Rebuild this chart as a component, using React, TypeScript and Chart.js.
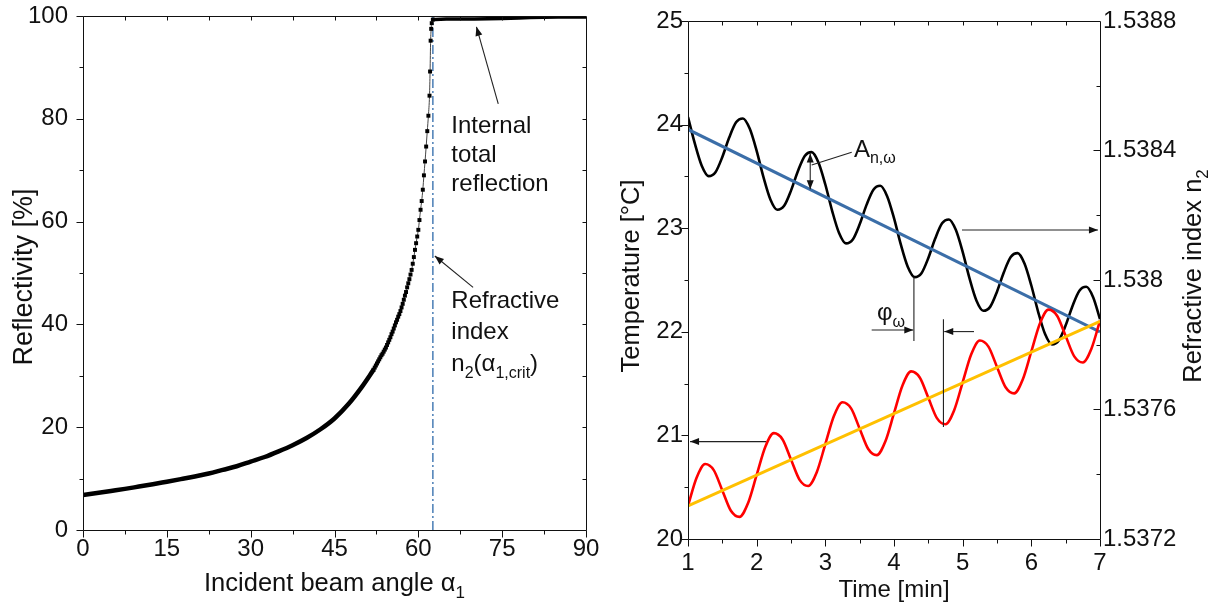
import React, { useEffect, useRef } from 'react';
import { Chart, registerables } from 'chart.js';

Chart.register(...registerables);

const FONT = '"Liberation Sans", Arial, Helvetica, sans-serif';

// ---------------- Left chart data ----------------
const ANGLE_LOW = [0, 2.5, 5, 7.5, 10, 12.5, 15, 17.5, 20, 22.5, 25, 27.5, 30, 32.5, 35, 37.5, 40, 42.5, 45, 47.5, 50, 52];
const REFL_LOW = [6.8, 7.2, 7.6, 8.0, 8.45, 8.9, 9.4, 9.9, 10.4, 11.0, 11.7, 12.4, 13.3, 14.2, 15.3, 16.5, 17.9, 19.6, 21.7, 24.5, 28.0, 31.2];

const ANGLE_STEEP = [52.0, 52.2, 52.4, 52.6, 52.8, 53.0, 53.2, 53.4, 53.6, 53.8, 54.0, 54.2, 54.4, 54.6, 54.8, 55.0, 55.2, 55.4, 55.6, 55.8, 56.0, 56.2, 56.4, 56.6, 56.8, 57.0, 57.2, 57.4, 57.6, 57.8, 58.0, 58.2, 58.4, 58.6, 58.8, 59.0, 59.2, 59.4, 59.6, 59.8, 60.0, 60.2, 60.4, 60.6, 60.8, 61.0, 61.2, 61.4, 61.6, 61.8, 62.0, 62.1, 62.2, 62.3, 62.4, 62.6];
const REFL_STEEP = [31.2, 31.6, 32.0, 32.4, 32.8, 33.2, 33.6, 34.0, 34.3, 34.7, 35.1, 35.5, 36.0, 36.5, 37.0, 37.5, 38.1, 38.6, 39.2, 39.8, 40.4, 40.9, 41.5, 42.0, 42.6, 43.3, 44.0, 44.8, 45.6, 46.3, 47.2, 48.0, 48.8, 49.7, 50.6, 51.8, 53.1, 54.5, 55.8, 57.1, 58.4, 60.3, 62.3, 64.0, 66.2, 69.0, 71.7, 74.6, 77.6, 80.6, 84.5, 89.2, 95.2, 97.5, 98.6, 99.3];

const ANGLE_TIR = [62.6, 63, 65, 70, 75, 78, 80, 85, 90];
const REFL_TIR = [99.3, 99.3, 99.4, 99.4, 99.5, 99.6, 99.7, 99.8, 99.8];

const CRIT_ANGLE = 62.6;

const ANGLE_TICKS = [0, 15, 30, 45, 60, 75, 90];
const REFL_TICKS = [0, 20, 40, 60, 80, 100];

// ---------------- Right chart data ----------------
const TIME_N = [1.0, 1.1, 1.2, 1.3, 1.4, 1.5, 1.6, 1.7, 1.8, 1.9, 2.0, 2.1, 2.2, 2.3, 2.4, 2.5, 2.6, 2.7, 2.8, 2.9, 3.0, 3.1, 3.2, 3.3, 3.4, 3.5, 3.6, 3.7, 3.8, 3.9, 4.0, 4.1, 4.2, 4.3, 4.4, 4.5, 4.6, 4.7, 4.8, 4.9, 5.0, 5.1, 5.2, 5.3, 5.4, 5.5, 5.6, 5.7, 5.8, 5.9, 6.0, 6.1, 6.2, 6.3, 6.4, 6.5, 6.6, 6.7, 6.8, 6.9, 7.0];
const INDEX_N = [
  1.538503, 1.538421, 1.538353, 1.538321, 1.538333, 1.53838, 1.53844, 1.538487, 1.538499, 1.538467,
  1.538399, 1.538317, 1.538249, 1.538217, 1.538229, 1.538276, 1.538336, 1.538383, 1.538395, 1.538363,
  1.538295, 1.538213, 1.538145, 1.538113, 1.538125, 1.538172, 1.538232, 1.538279, 1.538291, 1.538259,
  1.538191, 1.538109, 1.538041, 1.538009, 1.538021, 1.538068, 1.538128, 1.538175, 1.538187, 1.538155,
  1.538087, 1.538005, 1.537937, 1.537905, 1.537917, 1.537964, 1.538024, 1.538071, 1.538083, 1.538051,
  1.537983, 1.537901, 1.537833, 1.537801, 1.537813, 1.53786, 1.53792, 1.537967, 1.537979, 1.537947,
  1.537879,
];

const TIME_T = [1, 1.125, 1.25, 1.375, 1.5, 1.625, 1.75, 1.875, 2, 2.125, 2.25, 2.375, 2.5, 2.625, 2.75, 2.875, 3, 3.125, 3.25, 3.375, 3.5, 3.625, 3.75, 3.875, 4, 4.125, 4.25, 4.375, 4.5, 4.625, 4.75, 4.875, 5, 5.125, 5.25, 5.375, 5.5, 5.625, 5.75, 5.875, 6, 6.125, 6.25, 6.375, 6.5, 6.625, 6.75, 6.875, 7];
const TEMP = [
  20.32, 20.591, 20.724, 20.665, 20.469, 20.273, 20.214, 20.347,
  20.618, 20.889, 21.022, 20.963, 20.767, 20.571, 20.512, 20.645,
  20.916, 21.187, 21.32, 21.261, 21.065, 20.869, 20.81, 20.943,
  21.214, 21.485, 21.618, 21.559, 21.363, 21.167, 21.108, 21.241,
  21.512, 21.783, 21.916, 21.857, 21.661, 21.465, 21.406, 21.539,
  21.81, 22.081, 22.214, 22.155, 21.959, 21.763, 21.704, 21.837,
  22.108,
];

const TREND_TIME = [1, 7];
const TREND_INDEX = [1.538465, 1.53784];
const TREND_TEMP = [20.32, 22.1];

const TIME_TICKS = [1, 2, 3, 4, 5, 6, 7];
const TEMP_TICKS = [20, 21, 22, 23, 24, 25];
const INDEX_TICKS = [1.5372, 1.5376, 1.538, 1.5384, 1.5388];

// ---------------- helpers ----------------
type Seg = [string, boolean?];

function drawRich(ctx: CanvasRenderingContext2D, segs: Seg[], x: number, y: number, size: number, align: 'left' | 'center') {
  const sub = Math.round(size * 0.68);
  let w = 0;
  for (const [t, s] of segs) {
    ctx.font = `${s ? sub : size}px ${FONT}`;
    w += ctx.measureText(t).width;
  }
  let cx = align === 'center' ? x - w / 2 : x;
  ctx.textAlign = 'left';
  ctx.textBaseline = 'alphabetic';
  for (const [t, s] of segs) {
    ctx.font = `${s ? sub : size}px ${FONT}`;
    ctx.fillText(t, cx, s ? y + size * 0.28 : y);
    cx += ctx.measureText(t).width;
  }
}

function head(ctx: CanvasRenderingContext2D, x1: number, y1: number, x2: number, y2: number) {
  const a = Math.atan2(y2 - y1, x2 - x1);
  const L = 9, W = 3.5;
  ctx.beginPath();
  ctx.moveTo(x2, y2);
  ctx.lineTo(x2 - L * Math.cos(a) + W * Math.sin(a), y2 - L * Math.sin(a) - W * Math.cos(a));
  ctx.lineTo(x2 - L * Math.cos(a) - W * Math.sin(a), y2 - L * Math.sin(a) + W * Math.cos(a));
  ctx.closePath();
  ctx.fill();
}

function arrow(ctx: CanvasRenderingContext2D, x1: number, y1: number, x2: number, y2: number, headEnd = true, headStart = false) {
  ctx.beginPath();
  ctx.moveTo(x1, y1);
  ctx.lineTo(x2, y2);
  ctx.stroke();
  if (headEnd) head(ctx, x1, y1, x2, y2);
  if (headStart) head(ctx, x2, y2, x1, y1);
}

type TickSet = { side: 'left' | 'right' | 'top' | 'bottom'; scale: string; values: number[]; len: number; inward: boolean };

function drawFrameTicks(chart: any, sets: TickSet[]) {
  const ctx: CanvasRenderingContext2D = chart.ctx;
  const a = chart.chartArea;
  const L = Math.round(a.left) + 0.5, R = Math.round(a.right) + 0.5, T = Math.round(a.top) + 0.5, B = Math.round(a.bottom) + 0.5;
  ctx.save();
  ctx.strokeStyle = '#111';
  ctx.lineWidth = 1;
  ctx.beginPath();
  ctx.rect(L, T, R - L, B - T);
  for (const s of sets) {
    const sc = chart.scales[s.scale];
    for (const v of s.values) {
      const p = Math.round(sc.getPixelForValue(v)) + 0.5;
      if (s.side === 'left') { ctx.moveTo(L, p); ctx.lineTo(s.inward ? L + s.len : L - s.len, p); }
      if (s.side === 'right') { ctx.moveTo(R, p); ctx.lineTo(s.inward ? R - s.len : R + s.len, p); }
      if (s.side === 'bottom') { ctx.moveTo(p, B); ctx.lineTo(p, s.inward ? B - s.len : B + s.len); }
      if (s.side === 'top') { ctx.moveTo(p, T); ctx.lineTo(p, s.inward ? T + s.len : T - s.len); }
    }
  }
  ctx.stroke();
  ctx.restore();
}

const tickFont = { size: 24, family: FONT };

function axis(min: number, max: number, tickValues: number[], pad: number, fit: (s: any) => void, position: string, extra: any = {}) {
  return {
    type: 'linear',
    position,
    min,
    max,
    afterBuildTicks: (s: any) => { s.ticks = tickValues.map((v) => ({ value: v })); },
    afterFit: (s: any) => {
      fit(s);
      s.paddingTop = 0;
      s.paddingBottom = 0;
      s.paddingLeft = 0;
      s.paddingRight = 0;
    },
    grid: { display: false, drawTicks: false },
    border: { display: false },
    ticks: { font: tickFont, color: '#111', padding: pad, autoSkip: false, maxRotation: 0, minRotation: 0, ...extra },
  };
}

// ---------------- annotation anchors (data units) ----------------
const LEFT_NOTE_X = 65.9;
const TIR_TEXT_Y = [77.2, 71.6, 66.0];
const TIR_ARROW = [74.3, 82.9, 70.4, 97.9];
const CRIT_TEXT_Y = [43.2, 37.2, 30.9];
const CRIT_ARROW = [69.8, 47.2, 62.95, 53.3];

const A_TEXT = [3.417, 23.69];
const A_LEADER = [3.384, 23.733, 2.801, 23.61];
const A_ARROW = [2.78, 23.72, 23.376];
const PHI_TEXT = [3.752, 22.11];
const PHI_ARROW_R = [3.675, 4.281, 22.018];
const PHI_LINE1 = [4.29, 22.53, 21.91];
const PHI_LINE2 = [4.72, 22.122, 21.08];
const PHI_ARROW_L = [5.165, 4.732, 22.002];
const TO_INDEX_ARROW = [4.99, 6.97, 22.982];
const TO_TEMP_ARROW = [2.136, 1.03, 20.94];

const leftPlugin = {
  id: 'leftDecor',
  afterDatasetsDraw(chart: any) {
    const ctx: CanvasRenderingContext2D = chart.ctx;
    const xs = chart.scales.x, ys = chart.scales.y;
    const px = (v: number) => xs.getPixelForValue(v);
    const py = (v: number) => ys.getPixelForValue(v);
    drawFrameTicks(chart, [
      { side: 'left', scale: 'y', values: [0, 20, 40, 60, 80, 100], len: 7, inward: false },
      { side: 'left', scale: 'y', values: [10, 30, 50, 70, 90], len: 4, inward: false },
      { side: 'bottom', scale: 'x', values: [0, 15, 30, 45, 60, 75, 90], len: 7, inward: false },
      { side: 'bottom', scale: 'x', values: [7.5, 22.5, 37.5, 52.5, 67.5, 82.5], len: 4, inward: false },
      { side: 'top', scale: 'x', values: [7.5, 15, 22.5, 30, 37.5, 45, 52.5, 60, 67.5, 75, 82.5], len: 4, inward: true },
      { side: 'right', scale: 'y', values: [10, 20, 30, 40, 50, 60, 70, 80, 90], len: 4, inward: true },
    ]);
    ctx.save();
    ctx.fillStyle = '#111';
    ctx.strokeStyle = '#222';
    ctx.lineWidth = 1.1;
    const a = chart.chartArea;
    ctx.save();
    ctx.translate(23, 277);
    ctx.rotate(-Math.PI / 2);
    drawRich(ctx, [['Reflectivity [%]']], 0, 9, 27, 'center');
    ctx.restore();
    drawRich(ctx, [['Incident beam angle α'], ['1', true]], (a.left + a.right) / 2, 591, 25.5, 'center');
    const tx = px(LEFT_NOTE_X);
    drawRich(ctx, [['Internal']], tx, py(TIR_TEXT_Y[0]), 24, 'left');
    drawRich(ctx, [['total']], tx, py(TIR_TEXT_Y[1]), 24, 'left');
    drawRich(ctx, [['reflection']], tx, py(TIR_TEXT_Y[2]), 24, 'left');
    drawRich(ctx, [['Refractive']], tx, py(CRIT_TEXT_Y[0]), 24, 'left');
    drawRich(ctx, [['index']], tx, py(CRIT_TEXT_Y[1]), 24, 'left');
    drawRich(ctx, [['n'], ['2', true], ['(α'], ['1,crit', true], [')']], tx, py(CRIT_TEXT_Y[2]), 24, 'left');
    arrow(ctx, px(TIR_ARROW[0]), py(TIR_ARROW[1]), px(TIR_ARROW[2]), py(TIR_ARROW[3]));
    arrow(ctx, px(CRIT_ARROW[0]), py(CRIT_ARROW[1]), px(CRIT_ARROW[2]), py(CRIT_ARROW[3]));
    ctx.restore();
  },
};

const rightPlugin = {
  id: 'rightDecor',
  afterDatasetsDraw(chart: any) {
    const ctx: CanvasRenderingContext2D = chart.ctx;
    const xs = chart.scales.x, ys = chart.scales.y;
    const px = (v: number) => xs.getPixelForValue(v);
    const py = (v: number) => ys.getPixelForValue(v);
    drawFrameTicks(chart, [
      { side: 'left', scale: 'y', values: [20, 21, 22, 23, 24, 25], len: 7, inward: false },
      { side: 'left', scale: 'y', values: [20.5, 21.5, 22.5, 23.5, 24.5], len: 4, inward: false },
      { side: 'bottom', scale: 'x', values: [1, 2, 3, 4, 5, 6, 7], len: 7, inward: false },
      { side: 'bottom', scale: 'x', values: [1.5, 2.5, 3.5, 4.5, 5.5, 6.5], len: 4, inward: false },
      { side: 'top', scale: 'x', values: [1.5, 2, 2.5, 3, 3.5, 4, 4.5, 5, 5.5, 6, 6.5], len: 4, inward: true },
      { side: 'right', scale: 'y2', values: [1.5376, 1.538, 1.5384], len: 7, inward: true },
      { side: 'right', scale: 'y2', values: [1.5374, 1.5378, 1.5382, 1.5386], len: 4, inward: true },
    ]);
    ctx.save();
    ctx.fillStyle = '#111';
    ctx.strokeStyle = '#222';
    ctx.lineWidth = 1.1;
    const a = chart.chartArea;
    ctx.save();
    ctx.translate(20, 276);
    ctx.rotate(-Math.PI / 2);
    drawRich(ctx, [['Temperature [°C]']], 0, 9, 25.5, 'center');
    ctx.restore();
    ctx.save();
    ctx.translate(582, 276);
    ctx.rotate(-Math.PI / 2);
    drawRich(ctx, [['Refractive index n'], ['2', true]], 0, 9, 25.5, 'center');
    ctx.restore();
    drawRich(ctx, [['Time [min]']], (a.left + a.right) / 2, 597, 24, 'center');
    drawRich(ctx, [['A'], ['n,ω', true]], px(A_TEXT[0]), py(A_TEXT[1]), 24, 'left');
    ctx.beginPath();
    ctx.moveTo(px(A_LEADER[0]), py(A_LEADER[1]));
    ctx.lineTo(px(A_LEADER[2]), py(A_LEADER[3]));
    ctx.stroke();
    arrow(ctx, px(A_ARROW[0]), py(A_ARROW[1]), px(A_ARROW[0]), py(A_ARROW[2]), true, true);
    drawRich(ctx, [['φ'], ['ω', true]], px(PHI_TEXT[0]), py(PHI_TEXT[1]), 24, 'left');
    arrow(ctx, px(PHI_ARROW_R[0]), py(PHI_ARROW_R[2]), px(PHI_ARROW_R[1]), py(PHI_ARROW_R[2]));
    arrow(ctx, px(PHI_ARROW_L[0]), py(PHI_ARROW_L[2]), px(PHI_ARROW_L[1]), py(PHI_ARROW_L[2]));
    ctx.beginPath();
    ctx.moveTo(px(PHI_LINE1[0]), py(PHI_LINE1[1]));
    ctx.lineTo(px(PHI_LINE1[0]), py(PHI_LINE1[2]));
    ctx.moveTo(px(PHI_LINE2[0]), py(PHI_LINE2[1]));
    ctx.lineTo(px(PHI_LINE2[0]), py(PHI_LINE2[2]));
    ctx.stroke();
    arrow(ctx, px(TO_INDEX_ARROW[0]), py(TO_INDEX_ARROW[2]), px(TO_INDEX_ARROW[1]), py(TO_INDEX_ARROW[2]));
    arrow(ctx, px(TO_TEMP_ARROW[0]), py(TO_TEMP_ARROW[2]), px(TO_TEMP_ARROW[1]), py(TO_TEMP_ARROW[2]));
    ctx.restore();
  },
};

function pts(xs: number[], ys: number[]) {
  return xs.map((x, i) => ({ x, y: ys[i] }));
}

function leftConfig(): any {
  return {
    type: 'line',
    data: {
      datasets: [
        { data: pts(ANGLE_LOW, REFL_LOW), borderColor: '#000', borderWidth: 4.5, pointRadius: 0, cubicInterpolationMode: 'monotone' },
        { data: pts(ANGLE_STEEP, REFL_STEEP), borderColor: '#444', borderWidth: 1, pointRadius: 2.8, pointStyle: 'rect', pointBackgroundColor: '#000', pointBorderWidth: 0, cubicInterpolationMode: 'monotone' },
        { data: pts(ANGLE_TIR, REFL_TIR), borderColor: '#000', borderWidth: 3.5, pointRadius: 0 },
        { data: [{ x: CRIT_ANGLE, y: 0 }, { x: CRIT_ANGLE, y: 100 }], borderColor: '#4a7db5', borderWidth: 1.5, borderDash: [9, 3, 2, 3], pointRadius: 0 },
      ],
    },
    options: {
      animation: false,
      responsive: false,
      devicePixelRatio: 1,
      events: [],
      layout: { padding: { top: 16, right: 24, left: 0, bottom: 0 } },
      plugins: { legend: { display: false }, tooltip: { enabled: false } },
      scales: {
        x: axis(0, 90, ANGLE_TICKS, 4.5, (s: any) => { s.height = 80; }, 'bottom'),
        y: axis(0, 100, REFL_TICKS, 15, (s: any) => { s.width = 83; }, 'left'),
      },
    },
    plugins: [leftPlugin],
  };
}

function rightConfig(): any {
  return {
    type: 'line',
    data: {
      datasets: [
        { data: pts(TREND_TIME, TREND_TEMP), yAxisID: 'y', borderColor: '#ffc000', borderWidth: 3, pointRadius: 0, order: 0 },
        { data: pts(TIME_T, TEMP), yAxisID: 'y', borderColor: '#ff0000', borderWidth: 2.6, pointRadius: 0, cubicInterpolationMode: 'monotone', order: 1 },
        { data: pts(TREND_TIME, TREND_INDEX), yAxisID: 'y2', borderColor: '#3b6ea8', borderWidth: 3, pointRadius: 0, order: 2 },
        { data: pts(TIME_N, INDEX_N), yAxisID: 'y2', borderColor: '#000', borderWidth: 2.6, pointRadius: 0, cubicInterpolationMode: 'monotone', order: 3 },
      ],
    },
    options: {
      animation: false,
      responsive: false,
      devicePixelRatio: 1,
      events: [],
      layout: { padding: { top: 21, right: 0, left: 0, bottom: 0 } },
      plugins: { legend: { display: false }, tooltip: { enabled: false } },
      scales: {
        x: axis(1, 7, TIME_TICKS, 10, (s: any) => { s.height = 71; }, 'bottom'),
        y: axis(20, 25, TEMP_TICKS, 5, (s: any) => { s.width = 78; }, 'left'),
        y2: axis(1.5372, 1.5388, INDEX_TICKS, 3, (s: any) => { s.width = 117; }, 'right', {
          callback: (v: number) => String(Number(Number(v).toFixed(4))),
        }),
      },
    },
    plugins: [rightPlugin],
  };
}

export default function App() {
  const leftRef = useRef<HTMLCanvasElement>(null);
  const rightRef = useRef<HTMLCanvasElement>(null);
  useEffect(() => {
    const c1 = new Chart(leftRef.current as HTMLCanvasElement, leftConfig());
    const c2 = new Chart(rightRef.current as HTMLCanvasElement, rightConfig());
    return () => {
      c1.destroy();
      c2.destroy();
    };
  }, []);
  return (
    <div style={{ position: 'absolute', left: 0, top: 0, width: 1217, height: 610, background: '#fff' }}>
      <canvas ref={leftRef} width={610} height={610} style={{ position: 'absolute', left: 0, top: 0, width: 610, height: 610 }} />
      <canvas ref={rightRef} width={607} height={610} style={{ position: 'absolute', left: 610, top: 0, width: 607, height: 610 }} />
    </div>
  );
}
